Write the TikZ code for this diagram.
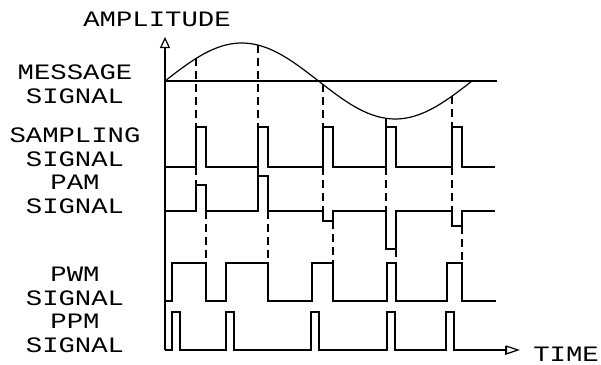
\documentclass[tikz,border=0pt]{standalone}
\usepackage{fontspec}
\newfontfamily\wavefont[FakeStretch=1.24]{Liberation Mono}
\usetikzlibrary{arrows.meta}

\begin{document}
\begin{tikzpicture}[x=1pt,y=-1pt,line width=1.2pt,
	guide/.style={dash pattern=on 8pt off 5pt},
	lbl/.style={font=\wavefont\fontsize{22}{24}\selectfont,inner sep=0,align=center}]
	\useasboundingbox (0,0) rectangle (601,364);
	% labels
	\node[lbl] (amp) at (157,19.5) {AMPLITUDE};
	\node[lbl] (msg) at (75,84.5) {MESSAGE\\SIGNAL};
	\node[lbl] (smp) at (75,147) {SAMPLING\\SIGNAL};
	\node[lbl] (pam) at (75,194) {PAM\\SIGNAL};
	\node[lbl] (pwm) at (75,286.5) {PWM\\SIGNAL};
	\node[lbl] (ppm) at (75,333) {PPM\\SIGNAL};
	\node[lbl] (time) at (566,354) {TIME};
	% axes
	\draw[-{Triangle[open,length=11pt,width=10pt]}] (165,350) -- (165,37);
	\draw (165,81) -- (497,81);
	% message
	\draw plot[domain=165:472,samples=80] (\x,{81-38*sin(1.17264*(\x-165))});
	% sampling
	\draw (165,167) \foreach \s in {196,258,323,386,452} {
		-- (\s,167) -- (\s,127) -- (\s+10,127) -- (\s+10,167)} -- (495,167);
	% pam
	\draw (165,211) \foreach \s/\h in {196/185,258/176,323/221,386/249,452/226} {
		-- (\s,211) -- (\s,\h) -- (\s+10,\h) -- (\s+10,211)} -- (495,211);
	% pwm
	\draw (165,301) \foreach \r/\f in {172/206,226/268,312/333,387/396,447/462} {
		-- (\r,301) -- (\r,263) -- (\f,263) -- (\f,301)} -- (496,301);
	% ppm
	\draw[-{Bar[width=9pt]Triangle[open,length=14pt,width=9pt]}] (165,350) \foreach \r in {172,226,311,387,446} {
		-- (\r,350) -- (\r,312) -- (\r+8,312) -- (\r+8,350)} -- (520,350);
	% sample instants
	\foreach \s/\h/\b in {196/185/211,258/176/211,323/211/221,386/211/249,452/211/226} {
		\draw[guide] (\s,{81-38*sin(1.17264*(\s-165))}) -- (\s,127);
		\draw[guide] (\s,167) -- (\s,\h);
		\draw[guide] (\s+10,\b) -- (\s+10,263);
	}
\end{tikzpicture}
\end{document}
